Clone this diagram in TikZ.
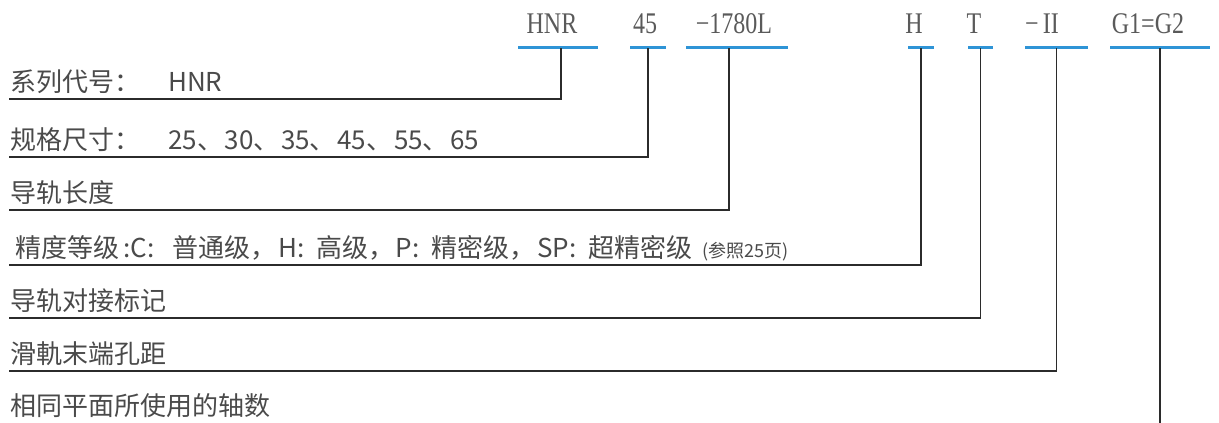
\documentclass[tikz,border=0pt]{standalone}
\usepackage{fontspec}
\setmainfont{Noto Sans CJK SC}
\newfontfamily\codefont[FakeStretch=0.8]{Liberation Serif}
\usepackage{xcolor}
\usepackage{tikz}
\usetikzlibrary{
  calc,
  positioning
}
\definecolor{CodeBlue}{HTML}{2E94D6}
\definecolor{CodeGray}{HTML}{5A5A5A}
\definecolor{LabelGray}{HTML}{4A4A4A}
\definecolor{LeaderBlack}{HTML}{2B2B2B}
\tikzset{
  every picture/.style = {line join=miter, line cap=rect},
  code/.style = {
    font=\codefont\fontsize{30}{32}\selectfont,
    text=CodeGray,
    inner sep=0pt,
    anchor=base
  },
  code rule/.style = {
    fill=CodeBlue,
    minimum height=3pt,
    inner sep=0pt
  },
  row label/.style = {
    font=\fontsize{26}{30}\selectfont,
    text=LabelGray,
    inner sep=0pt,
    text depth=7.5pt,
    anchor=south west
  },
  leader/.style = {draw=LeaderBlack, line width=1.6pt},
}
\newcommand{\RowHead}[1]{\makebox[158pt][l]{#1}}
\newcommand{\PageNote}[1]{{\fontsize{18}{20}\selectfont #1}}
\newcommand{\Gap}{\hspace{12pt}}
\newcommand{\Sep}{\hspace{1.6pt}}

\begin{document}
\begin{tikzpicture}[x=1pt,y=-1pt]
  \useasboundingbox (0,0) rectangle (1219,423);

  % model code
  \node[code] (tSeries) at (552,33) {HNR};
  \node[code] (tSize) at (645,33) {45};
  \node[code] (tLength) at (734,33) {−1780L};
  \node[code] (tGrade) at (914,33) {H};
  \node[code] (tJoint) at (974,33) {T};
  \node[code] (tPitch) at (1042,33) {−\hspace{4pt}II};
  \node[code] (tGroups) at (1148,33) {G1=G2};

  \node[code rule, minimum width=80pt] (uSeries) at (558,47) {};
  \node[code rule, minimum width=36pt] (uSize) at (648,47) {};
  \node[code rule, minimum width=102pt] (uLength) at (737,47) {};
  \node[code rule, minimum width=26pt] (uGrade) at (921,47) {};
  \node[code rule, minimum width=25pt] (uJoint) at (980.5,47) {};
  \node[code rule, minimum width=63pt] (uPitch) at (1056.5,47) {};
  \node[code rule, minimum width=100pt] (uGroups) at (1160,47) {};

  % explanations
  \node[row label] (lSeries) at (10,99) {\RowHead{系列代号：}HNR};
  \node[row label] (lSize) at (10,157)
    {\RowHead{规格尺寸：}25、\Sep 30、\Sep 35、\Sep 45、\Sep 55、\Sep 65};
  \node[row label] (lLength) at (10,210) {导轨长度};
  \node[row label, inner xsep=5pt] (lGrade) at (10,265)
    {精度等级\,:C:\hspace{18pt}普通级，\Sep H:\Gap 高级，\Sep P:\Gap 精密级，\Sep SP:\Gap 超精密级\hspace{10pt}\PageNote{(参照25页)}};
  \node[row label] (lJoint) at (10,318) {导轨对接标记};
  \node[row label] (lPitch) at (10,371) {滑軌末端孔距};
  \node[row label] (lAxes) at (10,423) {相同平面所使用的轴数};

  \draw[leader] ([xshift=3pt]uSeries.south) |- (lSeries.south west);
  \draw[leader] (uSize.south) |- (lSize.south west);
  \draw[leader] ([xshift=-8pt]uLength.south) |- (lLength.south west);
  \draw[leader] (uGrade.south) |- (lGrade.south west);
  \draw[leader] (uJoint.south) |- (lJoint.south west);
  \draw[leader] (uPitch.south) |- (lPitch.south west);
  \draw[leader] (uGroups.south) -- (uGroups.south |- lAxes.south);
\end{tikzpicture}
\end{document}
